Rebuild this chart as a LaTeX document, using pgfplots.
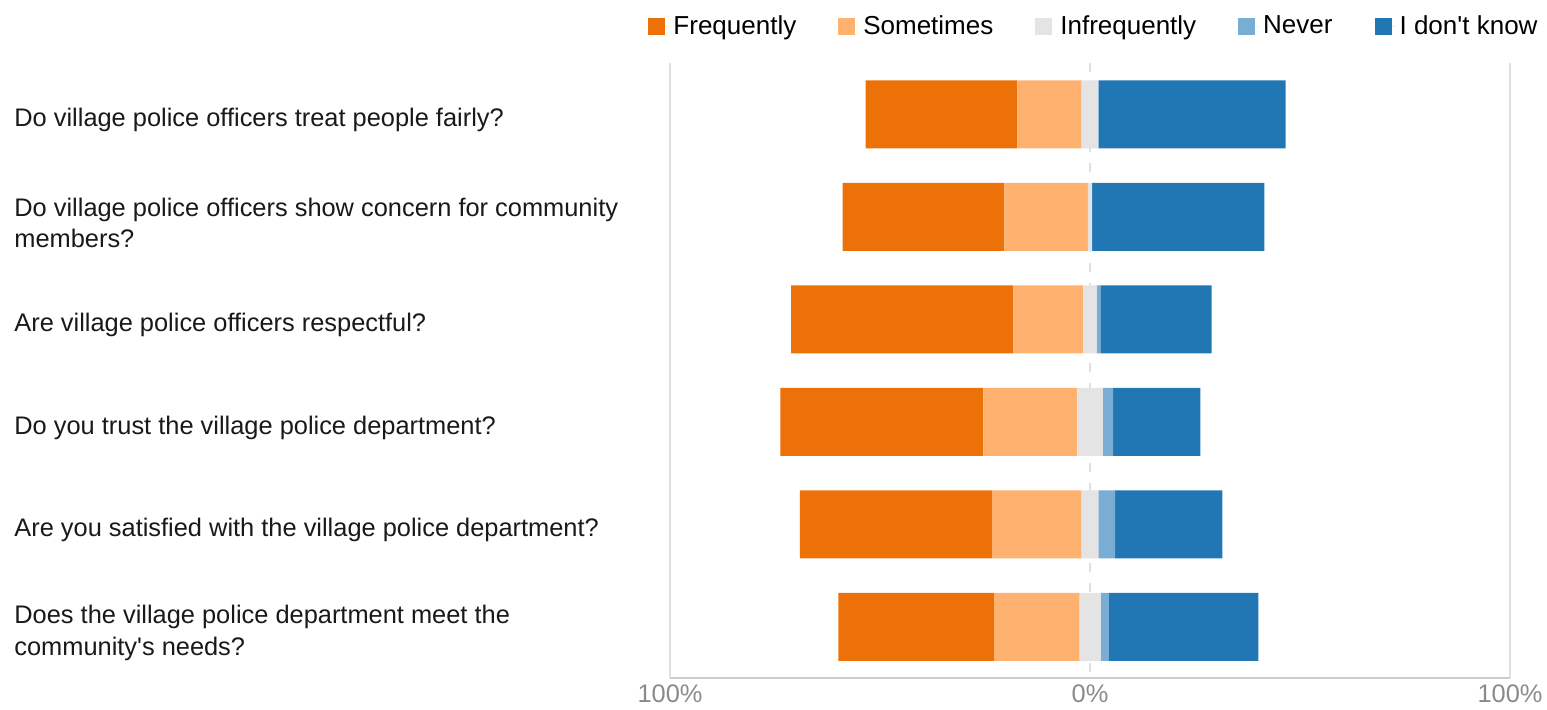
\documentclass[border=0pt]{standalone}
\usepackage{fontspec}
\setmainfont{Liberation Sans}
\usepackage{pgfplots}
\usepackage{pgfplotstable}
\pgfplotsset{compat=1.18}

\definecolor{cFreq}{HTML}{EC7108}
\definecolor{cSome}{HTML}{FFB26F}
\definecolor{cInfr}{HTML}{E4E4E4}
\definecolor{cNever}{HTML}{7AADD3}
\definecolor{cDK}{HTML}{2077B4}
\definecolor{tickgray}{HTML}{8A8A8A}

% share of answers in percent, q = question (1 = top row)
\pgfplotstableread{
q F    S    I   N   D
1 36.1 15.3 4.0 0.0 44.6
2 38.5 19.9 1.0 0.0 41.0
3 52.9 16.7 3.1 0.9 26.5
4 48.3 22.4 6.0 2.5 20.8
5 45.8 21.3 4.0 4.0 25.5
6 37.1 20.3 5.0 2.0 35.6
}\survey

\pgfplotsset{
  sq/.style={draw=none, fill=#1,
    legend image code/.code={\fill[#1] (0pt,-4.2pt) rectangle (8.5pt,4.2pt);
      \path (0pt,0pt) -- (10.5pt,0pt);}},
}

\begin{document}
\begin{tikzpicture}[font=\fontsize{12.7pt}{15.75pt}\selectfont]
\path[use as bounding box] (0,0) rectangle (773.5pt,-354.5pt);
\begin{axis}[
  at={(335pt,-339pt)}, anchor=south west,
  scale only axis, width=420pt, height=307.5pt,
  xbar stacked, bar width=34pt,
  xmin=-100, xmax=100, ymin=0.5, ymax=6.5, y dir=reverse,
  separate axis lines,
  axis x line*=bottom, axis y line*=left,
  x axis line style={color=black!20, line width=1pt},
  y axis line style={draw=none},
  major tick length=0pt,
  xtick={-100,100}, xticklabels={100\%,100\%},
  extra x ticks={0}, extra x tick labels={0\%},
  xmajorgrids,
  grid style={color=black!12, line width=1pt},
  extra x tick style={xmajorgrids,
    grid style={color=black!12, line width=1pt, dash pattern=on 4.5pt off 5.5pt}},
  xticklabel style={color=tickgray, font=\fontsize{12.7pt}{15.75pt}\selectfont},
  ytick={1,...,6},
  yticklabels={
    {Do village police officers treat people fairly?},
    {Do village police officers show concern for community\\members?},
    {Are village police officers respectful?},
    {Do you trust the village police department?},
    {Are you satisfied with the village police department?},
    {Does the village police department meet the\\community\textquotesingle s needs?}},
  yticklabel style={anchor=west, xshift=-328pt, yshift=-3pt, inner sep=0pt, align=left,
    text=black!90, font=\fontsize{12.7pt}{15.75pt}\selectfont},
  legend columns=5,
  legend style={draw=none, fill=none, inner sep=0pt, at={(1.038,1.06)}, anchor=east,
    font=\fontsize{13pt}{16pt}\selectfont,
    /tikz/every even column/.append style={column sep=19pt}},
  legend cell align=left,
]
% legend swatches first, so the plots themselves need no entries
\addlegendimage{sq=cFreq}
\addlegendimage{sq=cSome}
\addlegendimage{sq=cInfr}
\addlegendimage{sq=cNever}
\addlegendimage{sq=cDK}
\legend{Frequently, Sometimes, Infrequently, Never, I don\textquotesingle t know}
% negative values build the left stack, positive ones the right stack;
% "Infrequently" is split in half around 0
\addplot[sq=cInfr]  table[y=q, x expr={-0.5*\thisrow{I}}] {\survey};
\addplot[sq=cInfr]  table[y=q, x expr={0.5*\thisrow{I}}] {\survey};
\addplot[sq=cSome]  table[y=q, x expr={-\thisrow{S}}] {\survey};
\addplot[sq=cFreq]  table[y=q, x expr={-\thisrow{F}}] {\survey};
\addplot[sq=cNever] table[y=q, x=N] {\survey};
\addplot[sq=cDK]    table[y=q, x=D] {\survey};
\end{axis}
\end{tikzpicture}
\end{document}
